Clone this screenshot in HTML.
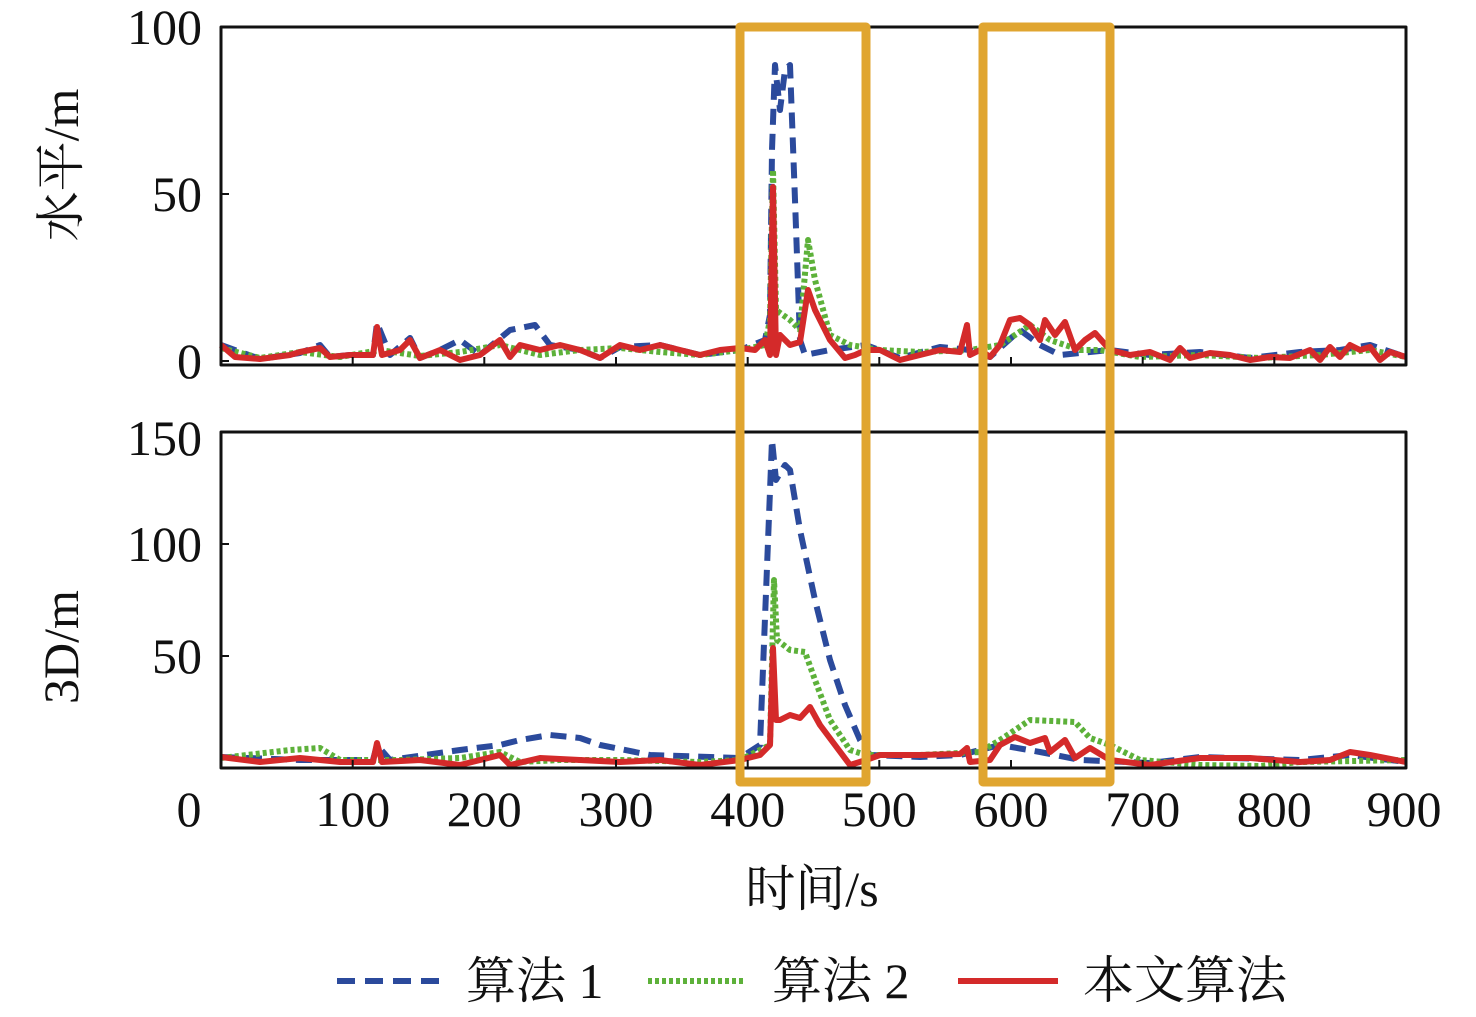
<!DOCTYPE html>
<html><head><meta charset="utf-8"><style>
body{margin:0;background:#fff;}
text{font-family:"Liberation Serif","Noto Serif CJK SC",serif;fill:#111;}
</style></head><body>
<svg width="1476" height="1012" viewBox="0 0 1476 1012" xmlns="http://www.w3.org/2000/svg">
<g fill="none" stroke-linejoin="round">
<polyline stroke="#2b4a9c" stroke-width="6" stroke-dasharray="16,9" points="221,345 260,359 300,353 320,345 330,357 350,355 373,355 377,323 390,355 410,338 420,358 440,350 460,340 480,355 510,330 535,325 550,345 580,350 600,358 620,347 660,345 700,355 740,350 765,340 770,315 772,150 775,65 780,110 785,70 790,65 795,200 800,340 805,355 830,350 866,345 900,358 940,347 970,350 990,357 1020,330 1040,345 1060,355 1110,350 1150,355 1200,352 1250,358 1300,352 1340,350 1370,345 1406,357"/>
<polyline stroke="#5db13a" stroke-width="6" stroke-dasharray="4,3" points="221,348 260,358 300,352 340,357 380,350 420,356 460,352 500,345 540,355 580,350 620,348 660,352 700,355 740,350 765,345 770,320 773,170 776,310 790,320 800,330 808,240 815,280 830,335 850,345 880,350 920,352 970,350 1000,345 1030,325 1050,340 1080,350 1100,350 1140,357 1200,355 1260,358 1320,355 1370,350 1406,357"/>
<polyline stroke="#d42a2a" stroke-width="6" points="221,345 235,357 260,359 290,355 300,352 320,348 330,357 350,355 373,355 377,327 382,355 400,350 410,340 420,358 440,350 460,360 480,355 500,340 510,357 520,345 540,350 560,345 580,350 600,358 620,345 640,350 660,345 680,350 700,355 720,350 740,348 755,350 765,340 770,355 773,187 776,355 780,335 790,345 800,342 808,290 815,310 830,340 845,358 855,355 866,350 880,350 900,360 920,355 940,350 960,352 967,325 970,355 980,350 990,357 1000,345 1010,320 1020,318 1030,325 1040,340 1045,320 1055,335 1065,322 1075,350 1085,340 1095,333 1110,350 1130,355 1150,352 1170,360 1180,348 1190,358 1210,353 1230,355 1250,360 1270,357 1290,358 1310,350 1320,360 1330,347 1340,357 1350,345 1360,350 1370,347 1380,360 1390,352 1406,357"/>
<polyline stroke="#2b4a9c" stroke-width="6" stroke-dasharray="16,9" points="221,757 300,760 373,760 377,745 390,760 460,750 500,745 520,740 550,735 580,738 600,745 650,755 740,758 760,745 772,440 776,480 785,465 790,470 800,530 815,600 830,660 845,705 860,740 870,755 920,757 960,755 1000,745 1040,752 1080,760 1150,763 1200,757 1300,760 1350,755 1406,762"/>
<polyline stroke="#5db13a" stroke-width="6" stroke-dasharray="4,3" points="221,758 290,750 320,748 340,760 400,760 460,758 500,752 520,762 560,760 620,760 700,762 740,760 770,745 774,580 777,640 790,650 805,652 815,680 830,720 850,750 866,755 920,755 980,752 1000,740 1030,720 1075,722 1090,738 1110,745 1140,760 1200,765 1260,766 1300,762 1406,760"/>
<polyline stroke="#d42a2a" stroke-width="6" points="221,757 260,762 300,758 340,762 373,762 377,743 382,762 420,760 460,765 500,755 510,765 540,758 580,760 620,762 660,760 700,765 740,760 760,755 770,745 773,648 776,720 780,720 790,715 800,718 810,707 820,725 835,745 850,765 866,760 880,755 920,755 960,754 967,748 970,762 990,760 1000,745 1015,737 1030,743 1045,738 1050,752 1065,740 1075,758 1090,748 1110,760 1150,765 1200,758 1250,758 1300,762 1330,760 1350,752 1370,755 1406,762"/>
<rect x="221" y="27" width="1185" height="338" stroke="#111" stroke-width="3"/>
<rect x="221" y="432" width="1185" height="336" stroke="#111" stroke-width="3"/>
<g stroke="#111" stroke-width="2">
<path d="M221,27h8M221,194h8M221,361h8M221,432h8M221,544h8M221,656h8"/>
<path d="M352.7,365v-8M484.3,365v-8M616,365v-8M747.7,365v-8M879.3,365v-8M1011,365v-8M1142.7,365v-8M1274.3,365v-8M352.7,768v-8M484.3,768v-8M616,768v-8M747.7,768v-8M879.3,768v-8M1011,768v-8M1142.7,768v-8M1274.3,768v-8"/>
</g>
<rect x="740" y="27" width="126" height="755" stroke="#e0a530" stroke-width="9"/>
<rect x="983" y="27" width="127" height="755" stroke="#e0a530" stroke-width="9"/>
</g>
<g font-size="50">
<text x="202" y="44" text-anchor="end">100</text>
<text x="202" y="211" text-anchor="end">50</text>
<text x="202" y="378" text-anchor="end">0</text>
<text x="202" y="455" text-anchor="end">150</text>
<text x="202" y="561" text-anchor="end">100</text>
<text x="202" y="673" text-anchor="end">50</text>
<g text-anchor="middle">
<text x="189" y="826">0</text><text x="352.7" y="826">100</text><text x="484.3" y="826">200</text><text x="616" y="826">300</text><text x="747.7" y="826">400</text><text x="879.3" y="826">500</text><text x="1011" y="826">600</text><text x="1142.7" y="826">700</text><text x="1274.3" y="826">800</text><text x="1404" y="826">900</text>
<text x="812" y="906">时间/s</text>
<text transform="translate(78,165) rotate(-90)">水平/m</text>
<text transform="translate(78,647) rotate(-90)">3D/m</text>
</g>
<text x="466" y="998">算法 1</text>
<text x="772" y="998">算法 2</text>
<text x="1083" y="998" font-size="51">本文算法</text>
</g>
<g stroke-width="6">
<line x1="337" y1="981" x2="440" y2="981" stroke="#2b4a9c" stroke-dasharray="18,10"/>
<line x1="648" y1="981" x2="746" y2="981" stroke="#5db13a" stroke-dasharray="4,3"/>
<line x1="958" y1="981" x2="1058" y2="981" stroke="#d42a2a"/>
</g>
</svg>
</body></html>
